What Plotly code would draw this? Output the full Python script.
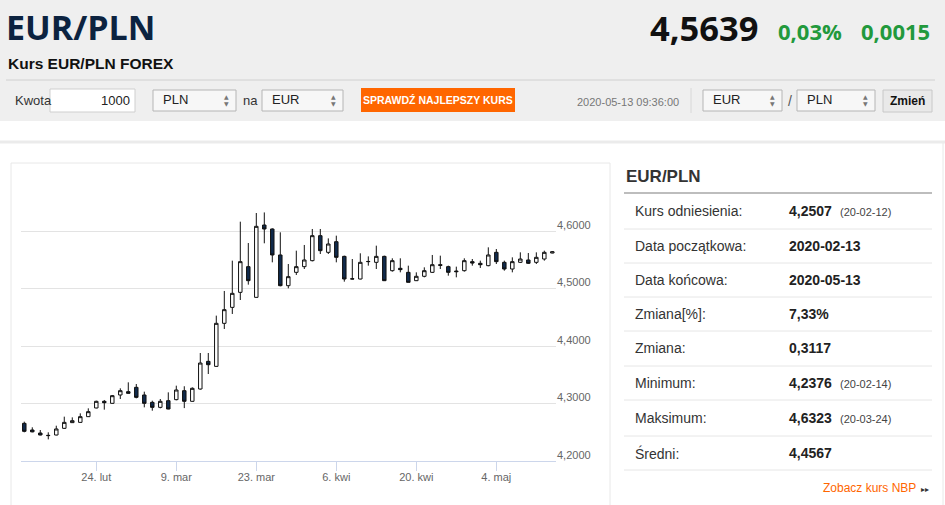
import plotly.graph_objects as go

# ==========================================
# DATA
# ==========================================
dates = [
    "2020-02-11", "2020-02-12", "2020-02-13", "2020-02-14",
    "2020-02-17", "2020-02-18", "2020-02-19", "2020-02-20", "2020-02-21",
    "2020-02-24", "2020-02-25", "2020-02-26", "2020-02-27", "2020-02-28",
    "2020-03-02", "2020-03-03", "2020-03-04", "2020-03-05", "2020-03-06",
    "2020-03-09", "2020-03-10", "2020-03-11", "2020-03-12", "2020-03-13",
    "2020-03-16", "2020-03-17", "2020-03-18", "2020-03-19", "2020-03-20",
    "2020-03-23", "2020-03-24", "2020-03-25", "2020-03-26", "2020-03-27",
    "2020-03-30", "2020-03-31", "2020-04-01", "2020-04-02", "2020-04-03",
    "2020-04-06", "2020-04-07", "2020-04-08", "2020-04-09", "2020-04-10",
    "2020-04-13", "2020-04-14", "2020-04-15", "2020-04-16", "2020-04-17",
    "2020-04-20", "2020-04-21", "2020-04-22", "2020-04-23", "2020-04-24",
    "2020-04-27", "2020-04-28", "2020-04-29", "2020-04-30", "2020-05-01",
    "2020-05-04", "2020-05-05", "2020-05-06", "2020-05-07", "2020-05-08",
    "2020-05-11", "2020-05-12", "2020-05-13",
]
open_ = [
    4.2655, 4.2539, 4.2487, 4.2441, 4.2452, 4.2568, 4.2667, 4.2672, 4.2771,
    4.2922, 4.3038, 4.3003, 4.3148, 4.3206, 4.3281, 4.3148, 4.3020, 4.2933, 4.3049,
    4.3067, 4.3223, 4.3038, 4.3252, 4.3733, 4.3646, 4.4394, 4.4672, 4.4933, 4.5380,
    4.4846, 4.6104, 4.6035, 4.5583, 4.5049, 4.5281, 4.5380, 4.5484, 4.5919, 4.5629,
    4.5814, 4.5559, 4.5165, 4.5165, 4.5467, 4.5455, 4.5559, 4.5310, 4.5351, 4.5281,
    4.5136, 4.5212, 4.5281, 4.5414, 4.5380, 4.5304, 4.5310, 4.5467, 4.5438, 4.5397,
    4.5629, 4.5455, 4.5339, 4.5455, 4.5496, 4.5455, 4.5513, 4.5617,
]
high = [
    4.2684, 4.2586, 4.2539, 4.2499, 4.2614, 4.2771, 4.2759, 4.2829, 4.2916,
    4.3049, 4.3061, 4.3148, 4.3264, 4.3368, 4.3339, 4.3206, 4.3049, 4.3078, 4.3194,
    4.3310, 4.3300, 4.3281, 4.3878, 4.3878, 4.4528, 4.4957, 4.5484, 4.6162, 4.5791,
    4.6313, 4.6323, 4.6046, 4.5977, 4.5426, 4.5658, 4.5757, 4.6035, 4.6035, 4.5872,
    4.5919, 4.5571, 4.5513, 4.5612, 4.5559, 4.5745, 4.5571, 4.5525, 4.5525, 4.5397,
    4.5281, 4.5368, 4.5583, 4.5571, 4.5397, 4.5380, 4.5525, 4.5513, 4.5484, 4.5716,
    4.5687, 4.5484, 4.5542, 4.5629, 4.5617, 4.5629, 4.5658, 4.5652,
]
low = [
    4.2499, 4.2499, 4.2446, 4.2376, 4.2446, 4.2557, 4.2661, 4.2667, 4.2765,
    4.2916, 4.2893, 4.2997, 4.3078, 4.3171, 4.3090, 4.2933, 4.2875, 4.2916, 4.2899,
    4.3055, 4.2920, 4.3032, 4.3241, 4.3513, 4.3641, 4.4296, 4.4557, 4.4800, 4.5067,
    4.4841, 4.5786, 4.5455, 4.5038, 4.5003, 4.5235, 4.5339, 4.5472, 4.5600, 4.5600,
    4.5455, 4.5119, 4.5159, 4.5159, 4.5397, 4.5339, 4.5130, 4.5293, 4.5281, 4.5107,
    4.5130, 4.5194, 4.5270, 4.5339, 4.5223, 4.5194, 4.5293, 4.5397, 4.5357, 4.5386,
    4.5426, 4.5310, 4.5281, 4.5443, 4.5426, 4.5426, 4.5484, 4.5612,
]
close = [
    4.2516, 4.2507, 4.2452, 4.2445, 4.2557, 4.2672, 4.2701, 4.2771, 4.2858,
    4.3038, 4.3014, 4.3136, 4.3223, 4.3177, 4.3107, 4.3003, 4.2933, 4.3038, 4.2904,
    4.3235, 4.3038, 4.3264, 4.3704, 4.3675, 4.4394, 4.4632, 4.4916, 4.5467, 4.5136,
    4.6081, 4.6035, 4.5583, 4.5049, 4.5206, 4.5380, 4.5496, 4.5919, 4.5658, 4.5774,
    4.5542, 4.5165, 4.5168, 4.5455, 4.5470, 4.5559, 4.5136, 4.5484, 4.5328, 4.5107,
    4.5212, 4.5310, 4.5414, 4.5403, 4.5281, 4.5293, 4.5484, 4.5443, 4.5414, 4.5583,
    4.5467, 4.5339, 4.5467, 4.5513, 4.5438, 4.5542, 4.5629, 4.5639,
]

x_tick_dates = ["2020-02-24", "2020-03-09", "2020-03-23", "2020-04-06", "2020-04-20", "2020-05-04"]
x_tick_labels = ["24. lut", "9. mar", "23. mar", "6. kwi", "20. kwi", "4. maj"]
y_tick_vals = [4.2, 4.3, 4.4, 4.5, 4.6, 4.7]
y_tick_labels = ["4,2000", "4,3000", "4,4000", "4,5000", "4,6000", ""]

stat_labels = ["Kurs odniesienia:", "Data początkowa:", "Data końcowa:", "Zmiana[%]:",
               "Zmiana:", "Minimum:", "Maksimum:", "Średni:"]
stat_values = ["4,2507", "2020-02-13", "2020-05-13", "7,33%", "0,3117", "4,2376", "4,6323", "4,4567"]
stat_dates = ["(20-02-12)", "", "", "", "", "(20-02-14)", "(20-03-24)", ""]

# ==========================================
# PAGE HELPERS (pixel -> paper)
# ==========================================
W, H = 945, 505
ARIAL = "Liberation Sans, Arial, sans-serif"
OPEN = "Open Sans, Liberation Sans, sans-serif"

shapes = []
annotations = []

def fx(x):
    return x / W

def fy(y):
    return 1 - y / H

def rect(x0, y0, x1, y1, fill="rgba(0,0,0,0)", line=None, width=1):
    shapes.append(dict(type="rect", xref="paper", yref="paper",
                       x0=fx(x0), x1=fx(x1), y0=fy(y1), y1=fy(y0),
                       fillcolor=fill, layer="below",
                       line=dict(color=line or "rgba(0,0,0,0)", width=width if line else 0)))

def hline(x0, x1, y, color, width=1):
    shapes.append(dict(type="line", xref="paper", yref="paper", x0=fx(x0), x1=fx(x1),
                       y0=fy(y), y1=fy(y), line=dict(color=color, width=width), layer="below"))

def vline(x, y0, y1, color, width=1):
    shapes.append(dict(type="line", xref="paper", yref="paper", x0=fx(x), x1=fx(x),
                       y0=fy(y0), y1=fy(y1), line=dict(color=color, width=width), layer="below"))

def text(x, y, s, size, color, anchor="left", family=ARIAL, weight="normal"):
    annotations.append(dict(xref="paper", yref="paper", x=fx(x), y=fy(y), text=s,
                            showarrow=False, xanchor=anchor, yanchor="middle",
                            font=dict(size=size, color=color, family=family, weight=weight)))

def select(x0, x1, label):
    rect(x0, 90, x1, 111, fill="#f7f7f7", line="#b5b5b5")
    text(x0 + 8, 100, label, 13, "#222")
    text(x1 - 10, 97, "▲", 6, "#777", anchor="center", family="DejaVu Sans")
    text(x1 - 10, 104, "▼", 6, "#777", anchor="center", family="DejaVu Sans")

# ---- header ----
rect(0, 0, W, 121, fill="#efefef")
hline(6, 935, 80, "#d0d0d0")
text(4, 27, "EUR/PLN", 34, "#0c2340", family=OPEN, weight=700)
text(6, 63, "<b>Kurs EUR/PLN FOREX</b>", 15.5, "#111")
text(648, 27, "<b>4,5639</b>", 34.5, "#111", family=OPEN)
text(776, 31, "<b>0,03%</b>", 22, "#22993c", family=OPEN)
text(859, 31, "<b>0,0015</b>", 22, "#22993c", family=OPEN)

text(13, 101, "Kwota", 13, "#333")
rect(50, 89, 135, 112, fill="#ffffff", line="#cfcfcf")
text(132, 101, "1000", 13, "#222", anchor="right")
select(153, 236, "PLN")
text(241, 101, "na", 13, "#333")
select(262, 343, "EUR")
rect(361, 88, 515, 112, fill="#ff6600")
text(438, 100, "<b>SPRAWDŹ NAJLEPSZY KURS</b>", 10.5, "#ffffff", anchor="center")
text(681, 102, "2020-05-13 09:36:00", 11, "#777", anchor="right")
vline(691, 88, 113, "#d8d8d8")
select(703, 782, "EUR")
text(790, 101, "/", 14, "#555", anchor="center")
select(797, 875, "PLN")
rect(883, 90, 932, 112, fill="#e9e9e9", line="#c8c8c8")
text(907, 101, "<b>Zmień</b>", 12, "#111", anchor="center")

# ---- content frame ----
hline(0, W, 142, "#ebebeb", width=3)
rect(11, 163, 610, 520, line="#e8e8e8")
vline(943, 143, H, "#e8e8e8")

# ---- stats panel ----
text(624, 176, "<b>EUR/PLN</b>", 17, "#333")
hline(624, 932, 193, "#bdbdbd", width=2)
row_y = [211, 246, 280, 314, 348, 383, 418, 453]
sep_y = [229, 263, 297, 331, 366, 400, 436, 470]
for yy, lab, val, dt in zip(row_y, stat_labels, stat_values, stat_dates):
    text(633, yy, lab, 14, "#333")
    text(787, yy, "<b>" + val + "</b>", 14, "#222")
    if dt:
        text(838, yy + 1, dt, 11, "#444")
for yy in sep_y:
    hline(624, 932, yy, "#e6e6e6")
text(918, 488, "Zobacz kurs NBP", 12, "#ff6600", anchor="right")
text(925, 489, "▸▸", 8, "#333", anchor="center", family="DejaVu Sans")

# ==========================================
# CANDLESTICK CHART
# ==========================================
fig = go.Figure(go.Candlestick(
    x=dates, open=open_, high=high, low=low, close=close,
    increasing=dict(line=dict(color="#111111", width=1), fillcolor="#ffffff"),
    decreasing=dict(line=dict(color="#111111", width=1), fillcolor="#102a4c"),
    whiskerwidth=0, hoverinfo="skip",
))

fig.update_layout(
    width=W, height=H, margin=dict(l=0, r=0, t=0, b=0),
    paper_bgcolor="#ffffff", plot_bgcolor="rgba(0,0,0,0)",
    showlegend=False, boxgap=0.38,
    shapes=shapes, annotations=annotations,
    xaxis=dict(
        type="category", domain=[fx(21), fx(556)], range=[-0.41, 66.46],
        rangeslider=dict(visible=False), showgrid=False, automargin=False,
        showline=True, linecolor="#ccd6eb", linewidth=1,
        ticks="outside", ticklen=9, tickcolor="#ccd6eb", ticklabelstandoff=-3,
        tickvals=x_tick_dates, ticktext=x_tick_labels,
        tickfont=dict(family=ARIAL, size=11, color="#666"),
    ),
    yaxis=dict(
        domain=[fy(461), fy(173.5)], range=[4.2, 4.7], side="right",
        tickvals=y_tick_vals, ticktext=y_tick_labels, automargin=False,
        showgrid=True, gridcolor="#e3e3e3", gridwidth=1, zeroline=False,
        ticks="", ticklabelposition="outside", ticklabelshift=-6,
        tickfont=dict(family=ARIAL, size=11, color="#666"),
    ),
)

# page body has a default 8px margin; drop it so the figure sits at the window corner
fig.write_html("out.html", config={"displayModeBar": False},
               post_script="document.body.style.margin = '0';")
